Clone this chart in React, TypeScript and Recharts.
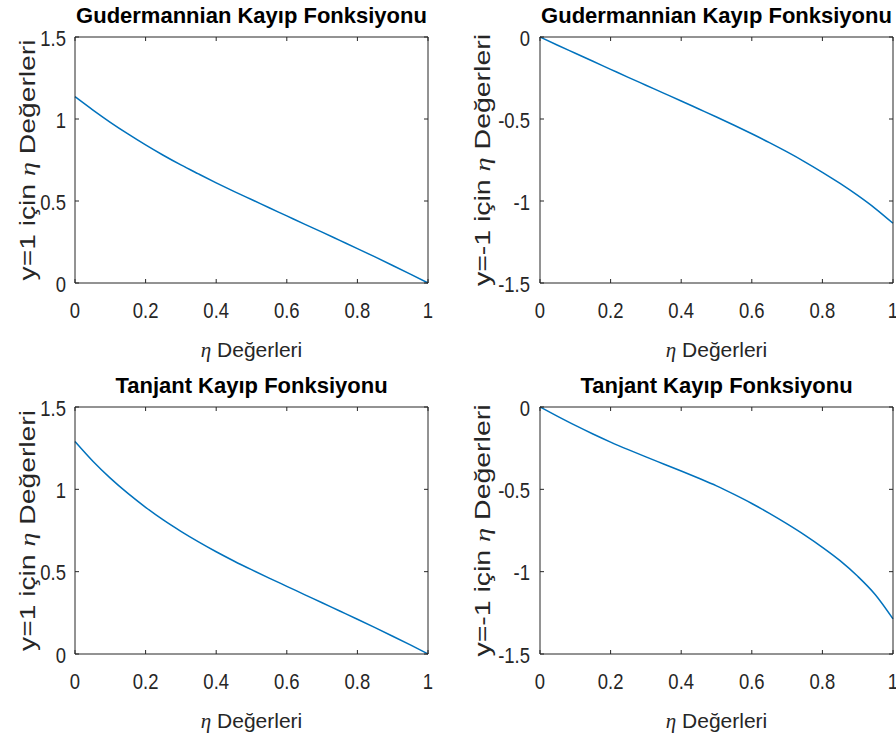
import React from 'react'
import { LineChart, Line, XAxis, YAxis } from 'recharts'

// eta grid shared by all four panels
const etaValues = [
  0, 0.05, 0.1, 0.15, 0.2, 0.25, 0.3, 0.35, 0.4, 0.45, 0.5,
  0.55, 0.6, 0.65, 0.7, 0.75, 0.8, 0.85, 0.9, 0.95, 1,
]

// Gudermannian loss, y = 1 and y = -1
const gudPos = [
  1.136, 1.056, 0.98, 0.909, 0.842, 0.779, 0.72, 0.665, 0.611, 0.559, 0.509,
  0.459, 0.409, 0.359, 0.31, 0.26, 0.21, 0.159, 0.107, 0.054, 0,
]
const gudNeg = [
  0, -0.05, -0.099, -0.148, -0.197, -0.246, -0.294, -0.342, -0.39, -0.439, -0.488,
  -0.538, -0.59, -0.644, -0.701, -0.761, -0.825, -0.893, -0.966, -1.046, -1.136,
]

// Tangent loss, y = 1 and y = -1
const tanPos = [
  1.29, 1.172, 1.068, 0.975, 0.891, 0.814, 0.745, 0.681, 0.621, 0.565, 0.512,
  0.461, 0.411, 0.361, 0.311, 0.261, 0.211, 0.16, 0.108, 0.055, 0,
]
const tanNeg = [
  0, -0.057, -0.112, -0.164, -0.213, -0.259, -0.303, -0.346, -0.389, -0.433, -0.479,
  -0.531, -0.586, -0.646, -0.71, -0.778, -0.852, -0.933, -1.028, -1.14, -1.287,
]

const etaTicks = [0, 0.2, 0.4, 0.6, 0.8, 1]
const posTicks = [0, 0.5, 1, 1.5]
const negTicks = [-1.5, -1, -0.5, 0]

const gudTitle = 'Gudermannian Kayıp Fonksiyonu'
const tanTitle = 'Tanjant Kayıp Fonksiyonu'
const posLabel = 'y=1 için'
const negLabel = 'y=-1 için'
const valuesWord = 'Değerleri'

const AXIS = '#262626'
const SANS = "'Liberation Sans', Arial, sans-serif"
const TICK_LEN = 4
const X_GAP = 20
const Y_GAP = 10

// MATLAB-style box: tick marks point into the plot, numbers sit outside.
// Tick numbers are a bit condensed, like MATLAB's Helvetica.
const XTick = ({ x, y, payload }: any) => {
  const axisY = y - X_GAP
  return (
    <g>
      <line x1={x} x2={x} y1={axisY} y2={axisY - TICK_LEN} stroke={AXIS} />
      <text
        transform={`translate(${x}, ${axisY + 35}) scale(0.84, 1)`}
        textAnchor="middle"
        fontFamily={SANS}
        fontSize={22}
        fill={AXIS}
      >
        {String(payload.value)}
      </text>
    </g>
  )
}

const YTick = ({ x, y, payload, gap }: any) => {
  const axisX = x + Y_GAP
  return (
    <g>
      <line x1={axisX} x2={axisX + TICK_LEN} y1={y} y2={y} stroke={AXIS} />
      <text
        transform={`translate(${axisX - gap}, ${y + 8.5}) scale(0.84, 1)`}
        textAnchor="end"
        fontFamily={SANS}
        fontSize={22}
        fill={AXIS}
      >
        {String(payload.value)}
      </text>
    </g>
  )
}

const TopTick = ({ x, y }: any) => (
  <line x1={x} x2={x} y1={y} y2={y + TICK_LEN} stroke={AXIS} />
)

const RightTick = ({ x, y }: any) => (
  <line x1={x} x2={x - TICK_LEN} y1={y} y2={y} stroke={AXIS} />
)

const TitleLabel = ({ viewBox, text }: any) => (
  <text
    x={viewBox.x + viewBox.width / 2}
    y={viewBox.y + viewBox.height - 14}
    textAnchor="middle"
    fontFamily={SANS}
    fontWeight="bold"
    fontSize={22}
    fill="#000"
  >
    {text}
  </text>
)

const XLabel = ({ viewBox }: any) => (
  <text
    x={viewBox.x + viewBox.width / 2}
    y={viewBox.y + 74}
    textAnchor="middle"
    fontFamily={SANS}
    fontSize={21}
    fill={AXIS}
  >
    <tspan fontFamily="'Liberation Serif', serif" fontStyle="italic">η</tspan> {valuesWord}
  </text>
)

const YLabel = ({ viewBox, prefix, gap, length }: any) => {
  const x = viewBox.x + viewBox.width - gap
  const y = viewBox.y + viewBox.height / 2
  return (
    <text
      x={x}
      y={y}
      transform={`rotate(-90, ${x}, ${y})`}
      textAnchor="middle"
      fontFamily={SANS}
      fontSize={22}
      fill={AXIS}
      textLength={length}
      lengthAdjust="spacingAndGlyphs"
    >
      {prefix} <tspan fontFamily="'Liberation Serif', serif" fontStyle="italic">η</tspan> {valuesWord}
    </text>
  )
}

interface PanelProps {
  left: number
  top: number
  height: number
  yWidth: number
  rightGap: number
  title: string
  values: number[]
  yTicks: number[]
  yLabel: string
  yLabelGap: number
  yLabelLength: number
  yTickGap: number
}

function Panel(p: PanelProps) {
  const data = etaValues.map((eta, i) => ({ eta, v: p.values[i] }))
  const yDomain = [p.yTicks[0], p.yTicks[p.yTicks.length - 1]]

  return (
    <div style={{ position: 'absolute', left: p.left, top: p.top }}>
      <LineChart
        width={448}
        height={p.height}
        data={data}
        margin={{ top: 36, right: p.rightGap - 1, bottom: 0, left: 0 }}
      >
        <XAxis
          dataKey="eta"
          type="number"
          domain={[0, 1]}
          ticks={etaTicks}
          interval={0}
          height={87}
          stroke={AXIS}
          tickLine={false}
          tickSize={0}
          tickMargin={X_GAP}
          tick={<XTick />}
          label={<XLabel />}
        />
        {/* top and right axes close the box and carry the inner ticks;
            a zero-sized axis is skipped, so they get 1px */}
        <XAxis
          xAxisId="top"
          orientation="top"
          dataKey="eta"
          type="number"
          domain={[0, 1]}
          allowDataOverflow
          ticks={etaTicks}
          interval={0}
          height={1}
          stroke={AXIS}
          tickLine={false}
          tickSize={0}
          tickMargin={0}
          tick={<TopTick />}
          label={<TitleLabel text={p.title} />}
        />
        <YAxis
          type="number"
          domain={yDomain}
          ticks={p.yTicks}
          interval={0}
          width={p.yWidth}
          stroke={AXIS}
          tickLine={false}
          tickSize={0}
          tickMargin={Y_GAP}
          tick={<YTick gap={p.yTickGap} />}
          label={<YLabel prefix={p.yLabel} gap={p.yLabelGap} length={p.yLabelLength} />}
        />
        <YAxis
          yAxisId="right"
          orientation="right"
          type="number"
          domain={yDomain}
          allowDataOverflow
          ticks={p.yTicks}
          interval={0}
          width={1}
          stroke={AXIS}
          tickLine={false}
          tickSize={0}
          tickMargin={0}
          tick={<RightTick />}
        />
        <Line
          xAxisId="top"
          yAxisId="right"
          dataKey="v"
          stroke="none"
          dot={false}
          activeDot={false}
          legendType="none"
          isAnimationActive={false}
        />
        <Line
          dataKey="v"
          type="monotone"
          stroke="#0072BD"
          strokeWidth={1.5}
          dot={false}
          isAnimationActive={false}
        />
      </LineChart>
    </div>
  )
}

export default function App() {
  return (
    <div
      style={{
        position: 'absolute',
        left: 0,
        top: 0,
        width: 896,
        height: 741,
        background: '#fff',
        overflow: 'hidden',
      }}
    >
      <Panel left={0} top={0} height={370} yWidth={75} rightGap={20} title={gudTitle}
        values={gudPos} yTicks={posTicks} yLabel={posLabel} yLabelGap={40} yLabelLength={241} yTickGap={9} />
      <Panel left={448} top={0} height={370} yWidth={92} rightGap={3} title={gudTitle}
        values={gudNeg} yTicks={negTicks} yLabel={negLabel} yLabelGap={50} yLabelLength={252} yTickGap={10} />
      <Panel left={0} top={370} height={371} yWidth={75} rightGap={20} title={tanTitle}
        values={tanPos} yTicks={posTicks} yLabel={posLabel} yLabelGap={40} yLabelLength={241} yTickGap={9} />
      <Panel left={448} top={370} height={371} yWidth={92} rightGap={3} title={tanTitle}
        values={tanNeg} yTicks={negTicks} yLabel={negLabel} yLabelGap={50} yLabelLength={252} yTickGap={10} />
    </div>
  )
}
